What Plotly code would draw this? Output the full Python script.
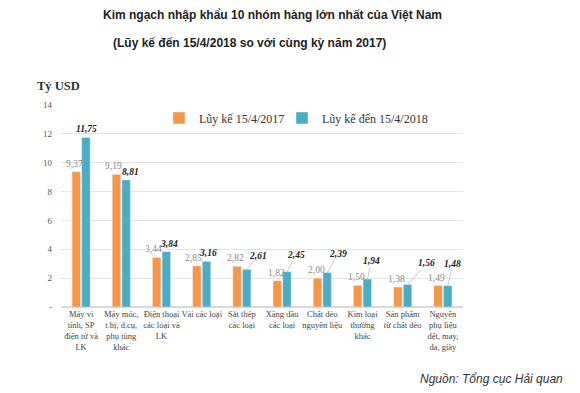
import plotly.graph_objects as go

categories = [
    "Máy vi<br>tính, SP<br>điện tử và<br>LK",
    "Máy móc,<br>t.bị, d.cụ,<br>phụ tùng<br>khác",
    "Điện thoại<br>các loại và<br>LK",
    "Vải các loại",
    "Sắt thép<br>các loại",
    "Xăng dầu<br>các loại",
    "Chất dẻo<br>nguyên liệu",
    "Kim loại<br>thường<br>khác",
    "Sản phẩm<br>từ chất dẻo",
    "Nguyên<br>phụ liệu<br>dệt, may,<br>da, giày",
]
values_2017 = [9.37, 9.19, 3.44, 2.85, 2.82, 1.82, 2.00, 1.50, 1.38, 1.49]
values_2018 = [11.75, 8.81, 3.84, 3.16, 2.61, 2.45, 2.39, 1.94, 1.56, 1.48]
name_2017 = "Lũy kế 15/4/2017"
name_2018 = "Lũy kế đến 15/4/2018"
y_ticks = [0, 2, 4, 6, 8, 10, 12, 14]
y_ticktext = ["-", "2", "4", "6", "8", "10", "12", "14"]

# label offsets (style only)
label_dx = [0, 4, 2, 1, 11, 9, 11, 4, 19, 5]
label_dy = [-8, -8, -8, -8, -13, -17, -19, -18, -21, -22]
orange_dx = [-2, -3, -3, -3, -1, -1, -1, -1, -1, -1]

def fmt(v):
    return f"{v:.2f}".replace(".", ",")

ORANGE = "#F79646"
BLUE = "#4BACC6"
SERIF = "Liberation Serif"

# page has an 8px body margin: shift the whole figure back by 8px
OFF = 8
PL, PR, PT, PB = 61, 463, 105, 307  # plot area in page pixels
W, H = 580, 393

fig = go.Figure()
fig.add_trace(go.Bar(
    x=list(range(len(categories))), y=values_2017, name=name_2017,
    marker_color=ORANGE, cliponaxis=False, legend="legend",
))
fig.add_trace(go.Bar(
    x=list(range(len(categories))), y=values_2018, name=name_2018,
    marker_color=BLUE, cliponaxis=False, legend="legend2",
))

annotations = []
for i, v in enumerate(values_2017):
    annotations.append(dict(
        x=i, y=v, xref="x", yref="y", xshift=-5 + orange_dx[i], yshift=1,
        text=fmt(v), showarrow=False, yanchor="bottom", xanchor="center",
        font=dict(family=SERIF, size=9.5, color="#8a8a8a"),
    ))
for i, v in enumerate(values_2018):
    long = label_dy[i] < -10
    annotations.append(dict(
        x=i, y=v, xref="x", yref="y", xshift=5,
        text=f"<b><i>{fmt(v)}</i></b>",
        showarrow=True, arrowhead=0, arrowwidth=0.7,
        arrowcolor="#b0b0b0" if long else "rgba(0,0,0,0)",
        ax=label_dx[i], ay=label_dy[i], standoff=0,
        font=dict(family=SERIF, size=9.5, color="#222"),
    ))

pw = PR - PL
ph = PB - PT

def px(x):
    return (x - PL) / pw

def py(y):
    return (PB - y) / ph

annotations += [
    dict(text="<b>Kim ngạch nhập khẩu 10 nhóm hàng lớn nhất của Việt Nam</b>",
         xref="paper", yref="paper", x=px(272), y=py(15),
         showarrow=False, font=dict(family="Liberation Sans", size=12, color="#222"),
         xanchor="center", yanchor="middle"),
    dict(text="<b>(Lũy kế đến 15/4/2018 so với cùng kỳ năm 2017)</b>",
         xref="paper", yref="paper", x=px(249), y=py(43),
         showarrow=False, font=dict(family="Liberation Sans", size=12, color="#222"),
         xanchor="center", yanchor="middle"),
    dict(text="<b>Tỷ USD</b>",
         xref="paper", yref="paper", x=px(35), y=py(86),
         showarrow=False, font=dict(family=SERIF, size=12.5, color="#333"),
         xanchor="left", yanchor="middle"),
    dict(text="<i>Nguồn: Tổng cục Hải quan</i>",
         xref="paper", yref="paper", x=px(565), y=py(379),
         showarrow=False, font=dict(family="Liberation Sans", size=12, color="#333"),
         xanchor="right", yanchor="middle"),
]

legend_style = dict(orientation="h", xanchor="left", yanchor="middle",
                    font=dict(family=SERIF, size=12, color="#333"),
                    itemwidth=30, bgcolor="rgba(0,0,0,0)")

fig.update_layout(
    width=W, height=H,
    margin=dict(l=PL - OFF, r=W - PR + OFF, t=PT - OFF, b=H - PB + OFF, autoexpand=False),
    paper_bgcolor="white", plot_bgcolor="white",
    barmode="group", bargap=0.52, bargroupgap=0.12,
    showlegend=True,
    legend=dict(x=px(159), y=py(118), **legend_style),
    legend2=dict(x=px(282), y=py(118), **legend_style),
    annotations=annotations,
    xaxis=dict(tickmode="array", tickvals=list(range(len(categories))),
               ticktext=categories, tickangle=0,
               tickfont=dict(family=SERIF, size=8.5, color="#444"),
               showgrid=False, showline=False, ticks="",
               range=[-0.5, len(categories) - 0.5], automargin=False),
    yaxis=dict(range=[0, 14], tickvals=y_ticks, ticktext=y_ticktext,
               tickfont=dict(family=SERIF, size=9, color="#555"),
               showgrid=True, gridcolor="#e4e4e4", gridwidth=1,
               zeroline=True, zerolinecolor="#d9d9d9", showline=False,
               ticks="", ticklabelstandoff=8, automargin=False),
)

fig.write_html("out.html")
